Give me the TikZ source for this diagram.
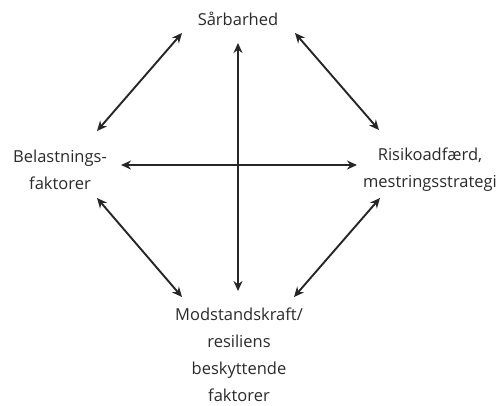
\documentclass[tikz,border=0pt]{standalone}
\usepackage{fontspec}
\setmainfont{Open Sans}
\usetikzlibrary{arrows.meta}
\definecolor{ink}{HTML}{2A2A2A}
\definecolor{arr}{HTML}{262626}
\begin{document}
\begin{tikzpicture}[x=1pt,y=-1pt,
  lbl/.style={text=ink,font=\fontsize{16.5}{27}\selectfont,align=center,inner sep=0pt},
  dbl/.style={draw=arr,line width=1.9pt,{Stealth[length=10pt,width=9pt]}-{Stealth[length=10pt,width=9pt]}}]
\useasboundingbox (0,0) rectangle (503,405);
\node[lbl] (top) at (238,19) {Sårbarhed};
\node[lbl] (left) at (60,170) {Belastnings-\\faktorer};
\node[lbl] (right) at (430,170) {Risikoadfærd,\\mestringsstrategi};
\node[lbl] (bot) at (239,355) {Modstandskraft/\\resiliens\\beskyttende\\faktorer};
\coordinate (v1) at (238,43);
\coordinate (v2) at (238,291);
\coordinate (h1) at (121,165);
\coordinate (h2) at (357,165);
\coordinate (ul1) at (97,131);
\coordinate (ul2) at (182,33);
\coordinate (ur1) at (295,33);
\coordinate (ur2) at (379,130);
\coordinate (ll1) at (97,198);
\coordinate (ll2) at (182,297);
\coordinate (lr1) at (380,198);
\coordinate (lr2) at (294,297);
\draw[dbl] (v1) -- (v2);
\draw[dbl] (h1) -- (h2);
\draw[dbl] (ul1) -- (ul2);
\draw[dbl] (ur1) -- (ur2);
\draw[dbl] (ll1) -- (ll2);
\draw[dbl] (lr1) -- (lr2);
\end{tikzpicture}
\end{document}
